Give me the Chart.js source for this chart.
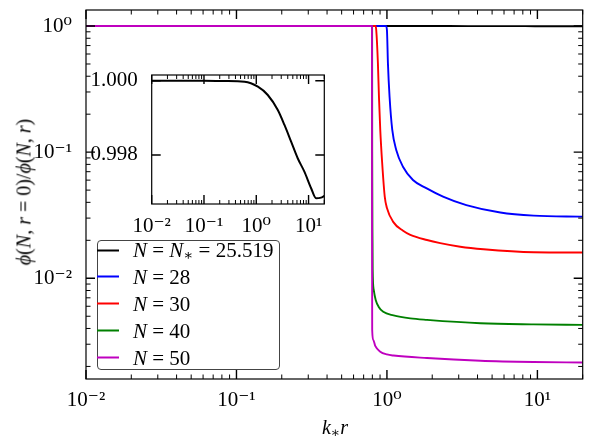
<!DOCTYPE html>
<html><head><meta charset="utf-8">
<script src="https://cdn.jsdelivr.net/npm/chart.js@4.4.0/dist/chart.umd.min.js"></script>
<style>
html,body{margin:0;padding:0;background:#fff;}
#wrap{position:relative;width:593px;height:442px;overflow:hidden;font-family:"Liberation Serif","DejaVu Serif",serif;color:#000;}
#main{position:absolute;left:0;top:0;}
#inset{position:absolute;left:80px;top:66px;}
.lbl{position:absolute;font-size:20px;white-space:nowrap;}
.lbl sub,#legend sub{font-size:0.7em;vertical-align:-0.25em;line-height:0;}
#ytitle{left:24px;top:192px;transform:translate(-50%,-50%) rotate(-90deg);}
#xtitle{left:335px;top:427px;transform:translate(-50%,-50%);}
#legend{position:absolute;left:96.5px;top:240px;width:183px;height:129.5px;border:1px solid #444;border-radius:4px;background:rgba(255,255,255,0.8);box-sizing:border-box;}
.row{position:absolute;left:-1px;display:flex;align-items:center;font-size:21px;white-space:nowrap;transform:translateY(-50%);}
.sw{width:22.5px;height:2px;margin-right:14px;}
</style></head>
<body><div id="wrap">
<canvas id="main" width="593" height="442"></canvas>
<canvas id="inset" width="260" height="175"></canvas>
<div id="ytitle" class="lbl"><i>ϕ</i>(<i>N</i>, <i>r</i> = 0)/<i>ϕ</i>(<i>N</i>, <i>r</i>)</div>
<div id="xtitle" class="lbl"><i>k</i><sub>∗</sub><i>r</i></div>
<div id="legend"></div>
</div>
<script>
// ---- data ----
const seriesLabels = ['N = N* = 25.519', 'N = 28', 'N = 30', 'N = 40', 'N = 50'];
const seriesColors = ['#000000', '#0000ff', '#ff0000', '#008000', '#bf00bf'];

const blackX = [0.01, 0.1, 0.249, 0.598, 1.073, 1.66, 2.58, 3.46, 4.64, 6.2, 8.32, 11.2, 13.9, 17.3, 20];
const blackY = [1.0, 1.0, 0.99999, 0.999973, 0.999838, 0.999615, 0.999211, 0.998808, 0.998358, 0.997911, 0.997551, 0.997104, 0.996835, 0.996851, 0.996896];

const blueX = [0.01, 0.985, 1.0, 1.0154, 1.041, 1.085, 1.153, 1.278, 1.489, 1.826, 2.36, 3.37, 5.67, 9.45, 20];
const blueY = [1, 1, 0.93, 0.506, 0.275, 0.150, 0.104, 0.0767, 0.0602, 0.0518, 0.0444, 0.038, 0.0332, 0.0314, 0.0308];

const redX = [0.01, 0.84, 0.849, 0.871, 0.885, 0.903, 0.930, 0.967, 1.0, 1.10, 1.28, 1.43, 1.846, 2.26, 3.07, 4.39, 9.45, 20];
const redY = [1, 1, 0.93, 0.506, 0.275, 0.150, 0.0817, 0.0444, 0.0361, 0.028, 0.0238, 0.0221, 0.0201, 0.019, 0.0178, 0.017, 0.0161, 0.016];

const greenX = [0.01, 0.797, 0.798, 0.802, 0.804, 0.817, 0.842, 0.882, 0.945, 1.106, 1.43, 1.846, 4.18, 9.4, 20];
const greenY = [1, 1, 0.1, 0.02, 0.01166, 0.00809, 0.00674, 0.00593, 0.00542, 0.00508, 0.00481, 0.00468, 0.0044, 0.00431, 0.00427];

const magentaX = [0.01, 0.795, 0.796, 0.798, 0.811, 0.836, 0.903, 1.0, 1.106, 1.846, 4.18, 9.4, 20];
const magentaY = [1, 1, 0.05, 0.0039, 0.00325, 0.00291, 0.00262, 0.00249, 0.00244, 0.00233, 0.00222, 0.00217, 0.00215];

const xTickValues = [0.01, 0.1, 1, 10];
const xTickLabels = ['10⁻²', '10⁻¹', '10⁰', '10¹'];
const yTickValues = [0.01, 0.1, 1];
const yTickLabels = ['10⁻²', '10⁻¹', '10⁰'];
const insetYTickValues = [0.998, 1.000];
const insetYTickLabels = ['0.998', '1.000'];

const seriesX = [blackX, blueX, redX, greenX, magentaX];
const seriesY = [blackY, blueY, redY, greenY, magentaY];

// ---- helpers ----
const FONT = '"Liberation Serif","DejaVu Serif",serif';
function pts(xs, ys) { return xs.map((x, i) => ({x: x, y: ys[i]})); }
function noPad(s) { s.paddingTop = 0; s.paddingBottom = 0; s.paddingLeft = 0; s.paddingRight = 0; }

function logTickList(min, max) {
  const major = [], minor = [];
  for (let e = Math.floor(Math.log10(min)); e <= Math.ceil(Math.log10(max)); e++) {
    for (let k = 1; k <= 9; k++) {
      const v = k * Math.pow(10, e);
      if (v < min * 0.9999 || v > max * 1.0001) continue;
      (k === 1 ? major : minor).push(v);
    }
  }
  return {major, minor};
}

const frameTicks = {
  id: 'frameTicks',
  beforeDatasetsDraw(chart, args, o) {
    if (o.fill) {
      const a = chart.chartArea, ctx = chart.ctx;
      ctx.save(); ctx.fillStyle = '#fff'; ctx.fillRect(a.left, a.top, a.width, a.height); ctx.restore();
    }
  },
  afterDatasetsDraw(chart, args, o) {
    const {ctx, chartArea: a, scales} = chart;
    const xs = scales.x, ys = scales.y;
    ctx.save();
    ctx.strokeStyle = '#000';
    const xt = logTickList(xs.min, xs.max);
    const yt = o.yLog ? logTickList(ys.min, ys.max) : {major: o.yMajor, minor: []};
    function vtick(v, len, lw) {
      const p = xs.getPixelForValue(v);
      ctx.lineWidth = lw; ctx.beginPath();
      ctx.moveTo(p, a.bottom); ctx.lineTo(p, a.bottom - len);
      ctx.moveTo(p, a.top); ctx.lineTo(p, a.top + len);
      ctx.stroke();
    }
    function htick(v, len, lw) {
      const p = ys.getPixelForValue(v);
      ctx.lineWidth = lw; ctx.beginPath();
      ctx.moveTo(a.left, p); ctx.lineTo(a.left + len, p);
      ctx.moveTo(a.right, p); ctx.lineTo(a.right - len, p);
      ctx.stroke();
    }
    xt.major.forEach(v => vtick(v, o.majorLen, 1.4));
    xt.minor.forEach(v => vtick(v, o.minorLen, 1.0));
    yt.major.forEach(v => htick(v, o.majorLen, 1.4));
    yt.minor.forEach(v => htick(v, o.minorLen, 1.0));
    ctx.lineWidth = 1.2;
    ctx.strokeRect(a.left, a.top, a.width, a.height);
    ctx.restore();
  }
};

// ---- main chart ----
const mainDatasets = seriesLabels.map((lab, i) => ({
  label: lab,
  data: pts(seriesX[i], seriesY[i]),
  borderColor: seriesColors[i],
  backgroundColor: seriesColors[i],
  borderWidth: 1.9,
  pointRadius: 0,
  fill: false,
  cubicInterpolationMode: 'monotone',
  order: seriesLabels.length - i
}));

const mainChart = new Chart(document.getElementById('main'), {
  type: 'line',
  data: {datasets: mainDatasets},
  options: {
    responsive: false, animation: false,
    layout: {padding: {top: 10, right: 10.3, left: 0, bottom: 0}},
    plugins: {legend: {display: false}, tooltip: {enabled: false},
      frameTicks: {yLog: true, majorLen: 9, minorLen: 4.5}},
    scales: {
      x: {
        type: 'logarithmic', min: 0.01, max: 20,
        grid: {display: false}, border: {display: false},
        afterBuildTicks: s => { s.ticks = xTickValues.map(v => ({value: v})); },
        afterFit: s => { s.height = 63; noPad(s); },
        ticks: {autoSkip: false, maxRotation: 0, padding: 1, color: '#000',
          font: {family: FONT, size: 21},
          callback: (v, i) => xTickLabels[i]}
      },
      y: {
        type: 'logarithmic', min: 0.00159, max: 1.34,
        grid: {display: false}, border: {display: false},
        afterBuildTicks: s => { s.ticks = yTickValues.map(v => ({value: v})); },
        afterFit: s => { s.width = 86; noPad(s); },
        ticks: {autoSkip: false, padding: 6, color: '#000',
          font: {family: FONT, size: 21},
          callback: (v, i) => yTickLabels[i]}
      }
    }
  },
  plugins: [frameTicks]
});

// ---- inset chart ----
new Chart(document.getElementById('inset'), {
  type: 'line',
  data: {datasets: [{
    label: seriesLabels[0],
    data: pts(blackX, blackY),
    borderColor: seriesColors[0],
    borderWidth: 2,
    pointRadius: 0,
    fill: false,
    cubicInterpolationMode: 'monotone'
  }]},
  options: {
    responsive: false, animation: false,
    layout: {padding: {top: 9, right: 15.7, left: 0, bottom: 0}},
    plugins: {legend: {display: false}, tooltip: {enabled: false},
      frameTicks: {yLog: false, yMajor: insetYTickValues, majorLen: 9, minorLen: 4, fill: true}},
    scales: {
      x: {
        type: 'logarithmic', min: 0.01, max: 20,
        grid: {display: false}, border: {display: false},
        afterBuildTicks: s => { s.ticks = xTickValues.map(v => ({value: v})); },
        afterFit: s => { s.height = 37; noPad(s); },
        ticks: {autoSkip: false, maxRotation: 0, padding: 2, color: '#000',
          font: {family: FONT, size: 21},
          callback: (v, i) => xTickLabels[i]}
      },
      y: {
        type: 'linear', min: 0.99668, max: 1.000153,
        grid: {display: false}, border: {display: false},
        afterBuildTicks: s => { s.ticks = insetYTickValues.map(v => ({value: v})); },
        afterFit: s => { s.width = 71.7; noPad(s); },
        ticks: {autoSkip: false, padding: 6, color: '#000',
          font: {family: FONT, size: 21},
          callback: (v, i) => insetYTickLabels[i]}
      }
    }
  },
  plugins: [frameTicks]
});

// ---- legend (HTML, built from the datasets) ----
function mathLabel(s) {
  return s.replace(/N/g, '<i>N</i>').replace(/\*/g, '<sub>∗</sub>');
}
const legendEl = document.getElementById('legend');
const rowCenters = [9, 35.8, 62.7, 89.6, 116.5];
mainChart.data.datasets.forEach((ds, i) => {
  const row = document.createElement('div');
  row.className = 'row';
  row.style.top = rowCenters[i] + 'px';
  row.innerHTML = '<span class="sw" style="background:' + ds.borderColor + '"></span><span>' + mathLabel(ds.label) + '</span>';
  legendEl.appendChild(row);
});
</script>
</body></html>
